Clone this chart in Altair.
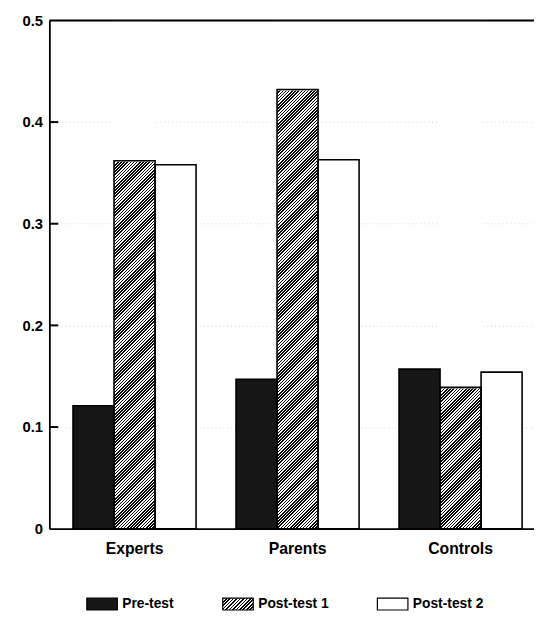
import altair as alt
import pandas as pd

# ---------------- data ----------------
GROUPS = ["Experts", "Parents", "Controls"]
SERIES = ["Pre-test", "Post-test 1", "Post-test 2"]
PRE_TEST = [0.121, 0.147, 0.157]
POST_TEST_1 = [0.362, 0.432, 0.139]
POST_TEST_2 = [0.358, 0.363, 0.154]
Y_TICKS = [0, 0.1, 0.2, 0.3, 0.4, 0.5]
INNER_TICKS = [0.1, 0.2, 0.3, 0.4]
Y_MAX = 0.5

rows = []
for s, vals in zip(SERIES, [PRE_TEST, POST_TEST_1, POST_TEST_2]):
    for g, v in zip(GROUPS, vals):
        rows.append({"group": g, "series": s, "value": v})
df = pd.DataFrame(rows)
ticks_df = pd.DataFrame({"tick": INNER_TICKS})
top_df = pd.DataFrame({"top": [Y_MAX]})

# ---------------- layout / style ----------------
W, H = 492, 516
PI, PO, ALIGN = 0.245, 0.109, 0.665
STEP = W / (len(GROUPS) - PI + 2 * PO)
BAR_W = STEP * (1 - PI) / len(SERIES)
FONT = "Liberation Sans"
PRE_COLOR = "#161616"


def hatch(w, h, period, dark, k=1.0):
    """Stops of a linear gradient that draws 45-degree '/' stripes in a w x h box."""
    r = h / w
    span = k * w * (1.0 + r * r)
    limit = w + h
    stops = []
    pos = 0.0
    while pos <= limit:
        a = pos / span
        b = (pos + period * dark) / span
        c = (pos + period) / span
        stops += [(a, "#000000"), (b, "#000000"), (b, "#ffffff"), (c, "#ffffff")]
        pos += period
    stops = [(round(min(o, 1.0), 7), col) for o, col in stops]
    return k, k * r, stops


gx2, gy2, gstops = hatch(BAR_W, H, 3.2, 0.5)
BAR_HATCH = alt.LinearGradient(
    gradient="linear",
    x1=0, y1=0, x2=gx2, y2=gy2,
    stops=[alt.GradientStop(color=c, offset=o) for o, c in gstops],
)

SW, SH = 31, 12
lx2, ly2, lstops = hatch(SW, SH, 3.5, 0.5, k=1.3)
LEGEND_HATCH_EXPR = "{gradient: 'linear', x1: 0, y1: 0, x2: %g, y2: %g, stops: [%s]}" % (
    lx2, ly2, ", ".join("{offset: %g, color: '%s'}" % (o, c) for o, c in lstops)
)
SYMBOL_PATH = "M-1,-%.4fH1V%.4fH-1Z" % (SH / SW, SH / SW)

y_axis = alt.Axis(
    values=Y_TICKS,
    labelExpr="datum.value == 0 ? '0' : format(datum.value, '.1f')",
    ticks=False, tickSize=0, labelPadding=7,
    domain=True, domainColor="black", domainWidth=1.8,
    grid=True, gridColor="#888888", gridDash=[1, 3], gridOpacity=0.35,
    labelFont=FONT, labelFontSize=15, labelFontWeight="bold", labelColor="black",
    title=None,
)
x_axis = alt.Axis(
    ticks=False, tickSize=0, labelPadding=12, labelAngle=0,
    domain=True, domainColor="black", domainWidth=1.8,
    labelFont=FONT, labelFontSize=16, labelFontWeight="bold", labelColor="black",
    title=None,
)
YS = alt.Scale(domain=[0, Y_MAX], nice=False, zero=True)
X = alt.X("group:N", sort=GROUPS, axis=x_axis,
          scale=alt.Scale(domain=GROUPS, paddingInner=PI, paddingOuter=PO, align=ALIGN))
XO = alt.XOffset("series:N", sort=SERIES,
                 scale=alt.Scale(domain=SERIES, paddingInner=0, paddingOuter=0))

base = alt.Chart(df)

# hatched background column for Post-test 1 (full height), then white mask above the value
hatch_bg = base.transform_filter(alt.datum.series == "Post-test 1").mark_bar(
    fill=BAR_HATCH
).encode(
    x=X, xOffset=XO,
    y=alt.Y(datum=Y_MAX, scale=YS, axis=y_axis),
    y2=alt.Y2(datum=0),
)
mask = base.transform_filter(alt.datum.series == "Post-test 1").mark_bar(
    fill="white", stroke="white", strokeWidth=2
).encode(
    x=X, xOffset=XO,
    y=alt.Y("value:Q", scale=YS, axis=y_axis),
    y2=alt.Y2(datum=Y_MAX),
)

legend = alt.Legend(
    orient="none", legendX=37, legendY=576, direction="horizontal", columns=3,
    gridAlign="each", title=None, padding=0,
    symbolType=SYMBOL_PATH, symbolSize=SW * SW,
    symbolStrokeColor="black", symbolStrokeWidth=1.2,
    labelFont=FONT, labelFontSize=14, labelFontWeight="bold", labelColor="black",
    labelOffset=4, columnPadding=46,
)
solid = base.transform_filter(
    alt.FieldOneOfPredicate(field="series", oneOf=["Pre-test", "Post-test 2"])
).mark_bar(stroke="black", strokeWidth=1.6).encode(
    x=X, xOffset=XO,
    y=alt.Y("value:Q", scale=YS, axis=y_axis),
    fill=alt.Fill(
        "series:N", sort=SERIES, legend=legend,
        scale=alt.Scale(domain=SERIES,
                        range=[PRE_COLOR, alt.ExprRef(expr=LEGEND_HATCH_EXPR), "#ffffff"]),
    ),
)
outline = base.transform_filter(alt.datum.series == "Post-test 1").mark_bar(
    fill="transparent", stroke="black", strokeWidth=1.6
).encode(
    x=X, xOffset=XO,
    y=alt.Y("value:Q", scale=YS, axis=y_axis),
)

inner_ticks = alt.Chart(ticks_df).mark_rule(color="black", strokeWidth=2).encode(
    y=alt.Y("tick:Q", scale=YS, axis=y_axis),
    x=alt.value(0), x2=alt.value(9),
)
top_border = alt.Chart(top_df).mark_rule(color="black", strokeWidth=2).encode(
    y=alt.Y("top:Q", scale=YS, axis=y_axis),
    x=alt.value(0), x2=alt.value("width"),
)

chart = alt.layer(hatch_bg, mask, solid, outline, inner_ticks, top_border).properties(
    width=W, height=H,
    autosize=alt.AutoSizeParams(type="none"),
    padding={"left": 42, "top": 8, "right": 0, "bottom": 82},
).configure_view(stroke=None).configure(background="white")

chart.save("out.html", embed_options={"renderer": "svg", "actions": False})
